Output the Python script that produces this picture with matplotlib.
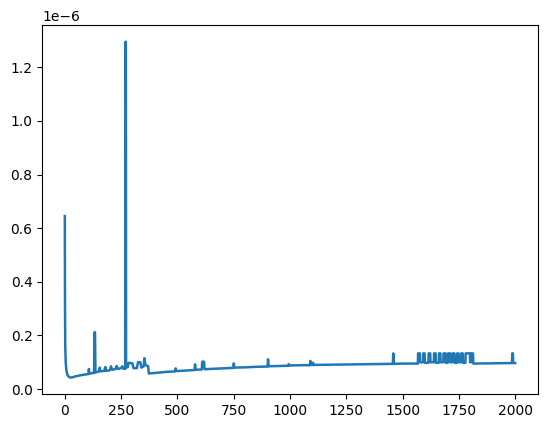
import matplotlib
matplotlib.use("Agg")
import matplotlib.pyplot as plt

# values in units of 1e-6
early_steps = [0, 1, 2, 4, 7, 12, 20, 30, 50, 80, 105, 107, 109, 125, 130, 132, 134, 136,
               150, 155, 158, 175, 180, 183, 200, 205, 210, 225, 230, 235, 250, 255, 260,
               268, 269, 271, 272, 280, 283, 300, 305, 320, 325, 335, 340, 350, 353, 358,
               370, 373]
early_loss = [0.645, 0.30, 0.16, 0.10, 0.07, 0.052, 0.044, 0.043, 0.048, 0.053, 0.056, 0.075, 0.057, 0.060, 0.060, 0.212, 0.212, 0.062,
              0.065, 0.080, 0.066, 0.068, 0.082, 0.068, 0.070, 0.085, 0.072, 0.075, 0.086, 0.075, 0.078, 0.085, 0.076,
              0.075, 1.295, 1.295, 0.080, 0.082, 0.098, 0.096, 0.078, 0.078, 0.100, 0.100, 0.080, 0.085, 0.115, 0.090,
              0.085, 0.058]

mid_steps = [400, 450, 490, 492, 495, 540, 576, 578, 581, 608, 610, 618, 620,
             700, 748, 750, 753, 800, 850, 900, 902, 905, 950, 992, 994, 997, 1050, 1088,
             1090, 1093, 1100, 1102, 1105, 1200, 1300, 1400, 1456, 1458, 1461, 1500, 1567]
mid_loss = [0.060, 0.064, 0.066, 0.077, 0.067, 0.069, 0.071, 0.092, 0.072, 0.073, 0.102, 0.102, 0.074,
            0.077, 0.079, 0.096, 0.080, 0.081, 0.083, 0.084, 0.111, 0.085, 0.086, 0.087, 0.093, 0.088, 0.089, 0.089,
            0.105, 0.090, 0.090, 0.098, 0.090, 0.091, 0.092, 0.093, 0.094, 0.133, 0.094, 0.095, 0.095]

pulse_steps = [1568, 1576, 1577, 1590, 1591, 1597, 1598, 1614, 1615, 1622, 1623, 1638, 1639,
               1646, 1647, 1660, 1661, 1667, 1668, 1680, 1681, 1690, 1691, 1700, 1701, 1710,
               1711, 1720, 1721, 1729, 1730, 1740, 1741, 1747, 1748, 1758, 1759, 1766, 1767,
               1778, 1779, 1798, 1799, 1803, 1804, 1812, 1813]
pulse_loss = [0.133, 0.133, 0.100, 0.100, 0.133, 0.133, 0.098, 0.098, 0.133, 0.133, 0.100, 0.100, 0.133,
              0.133, 0.098, 0.098, 0.133, 0.133, 0.100, 0.100, 0.133, 0.133, 0.098, 0.098, 0.133, 0.133,
              0.100, 0.100, 0.133, 0.133, 0.098, 0.098, 0.133, 0.133, 0.100, 0.100, 0.133, 0.133, 0.098,
              0.098, 0.133, 0.133, 0.100, 0.100, 0.133, 0.133, 0.095]

tail_steps = [1900, 1985, 1986, 1989, 1990, 1999]
tail_loss = [0.096, 0.097, 0.133, 0.133, 0.097, 0.097]

steps = early_steps + mid_steps + pulse_steps + tail_steps
loss = early_loss + mid_loss + pulse_loss + tail_loss

fig = plt.figure(figsize=(5.47, 4.28), dpi=100)
ax = fig.add_axes([0.0773, 0.0787, 0.9057, 0.8629])
ax.plot(steps, [v * 1e-6 for v in loss], color="#1f77b4", linewidth=1.8)
fig.savefig("out.png", dpi=100)
